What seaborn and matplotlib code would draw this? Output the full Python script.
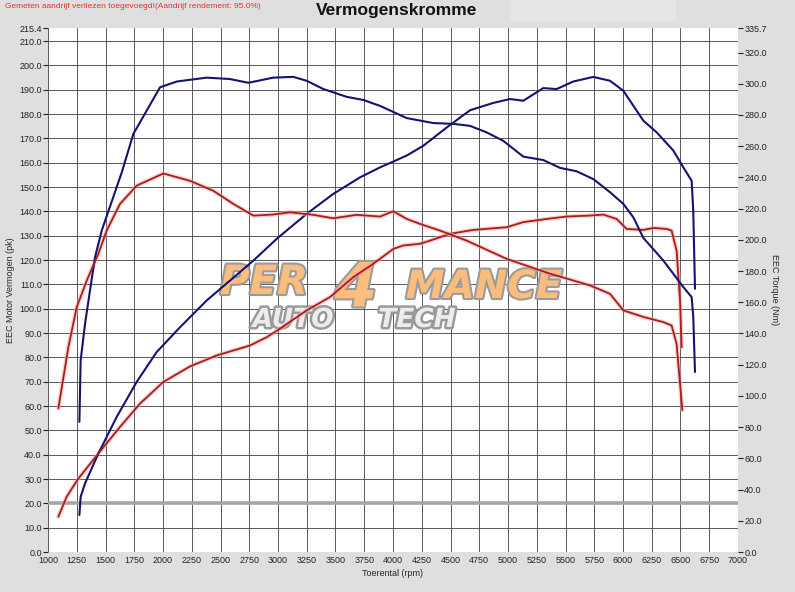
import matplotlib
matplotlib.use("Agg")
import matplotlib.pyplot as plt
import matplotlib.patheffects as pe
import seaborn as sns
import numpy as np

# Vermogen (pk) en koppel (Nm) per toerental
blauw_vermogen_rpm = [1273, 1284, 1322, 1438, 1597, 1771, 1945, 2148, 2380, 2583, 2786, 2988,
                      3249, 3481, 3713, 3887, 4003, 4120, 4264, 4467, 4670, 4872, 5017, 5133,
                      5307, 5423, 5568, 5742, 5887, 6003, 6177, 6293, 6438, 6525, 6597, 6611, 6626]
blauw_vermogen_pk = [15.2, 22.7, 28.2, 40.5, 55.5, 69.9, 82.2, 92.4, 103.4, 111.6, 119.8, 128.7,
                     139.0, 147.2, 154.0, 158.1, 160.5, 163.0, 167.0, 174.5, 181.6, 184.6, 186.2, 185.5,
                     190.7, 190.3, 193.4, 195.3, 193.7, 189.6, 177.3, 172.5, 165.0, 158.1, 152.6, 140.3, 108.2]

blauw_koppel_rpm = [1273, 1284, 1322, 1365, 1409, 1467, 1641, 1742, 1974, 2119, 2380, 2583,
                    2742, 2959, 3133, 3249, 3394, 3597, 3742, 3887, 4119, 4351, 4525, 4670,
                    4815, 4959, 5133, 5307, 5452, 5597, 5742, 5887, 6003, 6090, 6177, 6351,
                    6525, 6597, 6611, 6626]
blauw_koppel_nm = [83.4, 122.8, 146.2, 167.5, 188.9, 205.9, 243.1, 267.8, 297.7, 301.4, 303.9, 303.0,
                   300.6, 303.9, 304.4, 301.9, 296.6, 291.6, 289.6, 285.8, 278.0, 274.8, 274.3, 273.0,
                   268.8, 263.4, 253.3, 251.1, 246.1, 243.9, 238.9, 230.5, 223.0, 214.4, 201.2, 186.7,
                   169.7, 163.3, 150.6, 115.3]

rood_vermogen_rpm = [1090, 1162, 1264, 1438, 1626, 1800, 2003, 2235, 2467, 2757, 2902, 3017,
                     3249, 3452, 3655, 3829, 4003, 4090, 4235, 4322, 4496, 4698, 4988, 5133,
                     5336, 5510, 5713, 5829, 5945, 6032, 6177, 6264, 6380, 6423, 6466, 6496, 6510]
rood_vermogen_pk = [14.5, 22.7, 30.2, 40.5, 51.4, 61.0, 69.9, 76.3, 80.8, 84.9, 88.3, 91.8,
                    99.3, 104.8, 113.0, 118.5, 124.6, 126.0, 126.7, 128.0, 130.8, 132.4, 133.5, 135.6,
                    136.9, 137.9, 138.3, 138.7, 136.9, 132.8, 132.4, 133.2, 132.8, 132.1, 123.9, 103.4, 84.2]

rood_koppel_rpm = [1090, 1177, 1250, 1337, 1438, 1510, 1626, 1771, 2003, 2235, 2438, 2612,
                   2786, 2959, 3104, 3307, 3481, 3684, 3887, 4003, 4119, 4235, 4409, 4640,
                   4988, 5365, 5713, 5887, 6003, 6177, 6351, 6423, 6466, 6496, 6516]
rood_koppel_nm = [92.0, 131.2, 156.9, 173.9, 191.1, 205.9, 223.0, 234.7, 242.5, 237.8, 231.4, 223.0,
                  215.5, 216.2, 217.6, 216.0, 213.8, 216.0, 214.9, 218.3, 213.4, 210.2, 205.9, 199.5,
                  187.8, 178.3, 170.8, 165.4, 154.8, 150.6, 147.3, 145.1, 133.4, 107.8, 90.9]

x_ticks = list(range(1000, 7001, 250))
links_ticks = [float(v) for v in range(0, 211, 10)] + [215.4]
rechts_ticks = [float(v) for v in range(0, 321, 20)] + [335.7]

sns.set_theme(style="white")
plt.rcParams['font.family'] = ['Liberation Sans', 'DejaVu Sans']

W, H = 795, 592
fig = plt.figure(figsize=(W / 100, H / 100), dpi=100, facecolor='#dfdfdf')
ax = fig.add_axes([48 / W, 40 / H, 690 / W, 524 / H])
ax.set_facecolor('white')
ax2 = ax.twinx()

blauw = '#141470'
rood = '#ab1d1d'
halo = '#f2a4a4'

# grid
for x in x_ticks:
    ax.axvline(x, color='#4e4e4e', lw=0.65, zorder=1)
for y in links_ticks[:-1]:
    ax.axhline(y, color='#4e4e4e', lw=0.65, zorder=1)
ax.axhline(20, color='#a6a6a6', lw=2.6, zorder=1.2)

# logo
def logo(txt, px, py, size, fill, stroke, lw):
    ax.text(px / W, 1 - py / H, txt, transform=fig.transFigure, ha='center', va='center',
            fontsize=size, fontweight='bold', fontstyle='italic', family='DejaVu Sans',
            color=fill, zorder=1.5,
            path_effects=[pe.Stroke(linewidth=lw, foreground=stroke), pe.Normal()])

logo("4", 356, 290, 44, '#fbbd7e', '#9a9a9a', 3)
logo("PER", 264, 283, 29, '#fbbd7e', '#9a9a9a', 3)
logo("MANCE", 484, 287, 28, '#fbbd7e', '#9a9a9a', 3)
logo("AUTO", 293, 320, 19, '#ececec', '#999999', 3.5)
logo("TECH", 417, 320, 19, '#ececec', '#999999', 3.5)

# curves
kw = dict(estimator=None, sort=False, solid_joinstyle='round', solid_capstyle='round')
sns.lineplot(x=blauw_vermogen_rpm, y=blauw_vermogen_pk, ax=ax, color=blauw, lw=1.5,
             zorder=3, **kw)
sns.lineplot(x=rood_vermogen_rpm, y=rood_vermogen_pk, ax=ax, color=halo, lw=3.2, alpha=0.5,
             zorder=2.8, **kw)
sns.lineplot(x=rood_vermogen_rpm, y=rood_vermogen_pk, ax=ax, color=rood, lw=1.3,
             zorder=3, **kw)
sns.lineplot(x=blauw_koppel_rpm, y=blauw_koppel_nm, ax=ax2, color=blauw, lw=1.5,
             zorder=3, **kw)
sns.lineplot(x=rood_koppel_rpm, y=rood_koppel_nm, ax=ax2, color=halo, lw=3.2, alpha=0.5,
             zorder=2.8, **kw)
sns.lineplot(x=rood_koppel_rpm, y=rood_koppel_nm, ax=ax2, color=rood, lw=1.3,
             zorder=3, **kw)

ax.set_xlim(1000, 7000)
ax.set_ylim(0, 215.4)
ax2.set_ylim(0, 335.7)

ax.set_xticks(x_ticks)
ax.set_xticklabels([str(v) for v in x_ticks])
ax.set_yticks(links_ticks)
ax.set_yticklabels([f"{v:.1f}" for v in links_ticks])
ax2.set_yticks(rechts_ticks)
ax2.set_yticklabels([f"{v:.1f}" for v in rechts_ticks])

ax.tick_params(axis='x', length=0, pad=3, labelsize=6.5, colors='#222222')
ax.tick_params(axis='y', left=True, length=3.5, width=0.8, pad=1, labelsize=6.5,
               colors='#222222', direction='out')
ax2.tick_params(axis='y', right=True, length=3.5, width=0.8, pad=1, labelsize=6.5,
                colors='#222222', direction='out')

for a in (ax, ax2):
    for s in a.spines.values():
        s.set_visible(False)

ax.set_xlabel("Toerental (rpm)", fontsize=6.5, labelpad=3)
ax.set_ylabel("EEC Motor Vermogen (pk)", fontsize=6.5, labelpad=3)
ax2.set_ylabel("EEC Torque (Nm)", fontsize=6.5, rotation=270, labelpad=9)

# kop
fig.patches.append(plt.Rectangle((510 / W, 1 - 20 / H), 165 / W, 20 / H,
                                 transform=fig.transFigure, color='#e6e4e6', zorder=0))
fig.text(5 / W, 1 - 6 / H, "Gemeten aandrijf verliezen toegevoegd!(Aandrijf rendement: 95.0%)",
         fontsize=6, color='#e03232', ha='left', va='center')
fig.text(397 / W, 1 - 10 / H, "Vermogenskromme", fontsize=12.5, fontweight='bold',
         color='#111111', ha='center', va='center')

fig.savefig("out.png", dpi=100, facecolor=fig.get_facecolor())
